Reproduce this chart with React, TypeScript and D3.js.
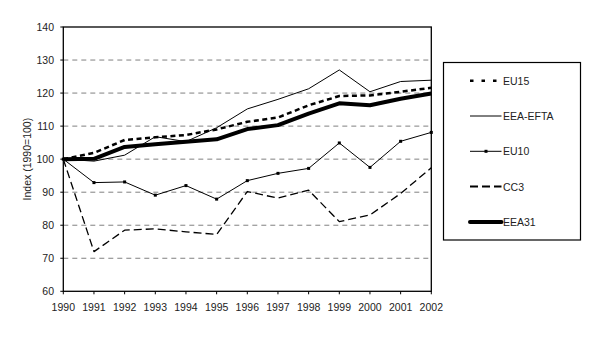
import React from "react";
import * as d3 from "d3";

const years = [1990, 1991, 1992, 1993, 1994, 1995, 1996, 1997, 1998, 1999, 2000, 2001, 2002];
const eu15 = [100, 101.9, 105.8, 106.6, 107.3, 109.0, 111.3, 112.6, 116.3, 119.1, 119.3, 120.4, 121.6];
const eeaEfta = [100, 99.4, 101.2, 106.8, 105.3, 109.5, 115.2, 118.1, 121.3, 127.0, 120.4, 123.5, 123.9];
const eu10 = [100, 92.9, 93.1, 89.1, 92.0, 87.9, 93.5, 95.7, 97.2, 104.9, 97.5, 105.4, 108.1];
const cc3 = [100, 72.0, 78.5, 78.9, 78.0, 77.2, 90.2, 88.2, 90.6, 81.1, 83.1, 89.6, 97.4];
const eea31 = [100, 100.1, 103.7, 104.5, 105.3, 106.0, 109.1, 110.3, 113.8, 116.9, 116.3, 118.3, 119.9];
const yTicks = [60, 70, 80, 90, 100, 110, 120, 130, 140];

const series = [
  { name: "EU15", values: eu15, width: 2.5, dash: "5 3.5", marker: false },
  { name: "EEA-EFTA", values: eeaEfta, width: 1, dash: null, marker: false },
  { name: "EU10", values: eu10, width: 1, dash: null, marker: true },
  { name: "CC3", values: cc3, width: 1.3, dash: "8 4", marker: false },
  { name: "EEA31", values: eea31, width: 4, dash: null, marker: false },
];

const font = "'Liberation Sans', Arial, sans-serif";

export default function App() {
  const x = d3.scaleLinear().domain([1990, 2002]).range([63.3, 431.3]);
  const y = d3.scaleLinear().domain([60, 140]).range([291.3, 27]);
  const line = d3
    .line<number>()
    .x((_, i) => x(years[i]))
    .y((d) => y(d));

  return (
    <svg
      width={610}
      height={364}
      style={{ position: "absolute", left: 0, top: 0, background: "#fff" }}
    >
      {/* grid */}
      {yTicks.slice(1, -1).map((t) => (
        <line
          key={t}
          x1={x(1990)}
          x2={x(2002)}
          y1={y(t)}
          y2={y(t)}
          stroke="#808080"
          strokeWidth={1}
          strokeDasharray="5 4"
        />
      ))}
      {/* plot border */}
      <rect
        x={x(1990)}
        y={y(140)}
        width={x(2002) - x(1990)}
        height={y(60) - y(140)}
        fill="none"
        stroke="#000"
        strokeWidth={1.3}
      />
      {/* y ticks */}
      {yTicks.map((t) => (
        <g key={t}>
          <line x1={x(1990) - 3} x2={x(1990)} y1={y(t)} y2={y(t)} stroke="#000" />
          <text
            x={54}
            y={y(t)}
            textAnchor="end"
            dominantBaseline="central"
            fontFamily={font}
            fontSize={10.5}
            fill="#222"
          >
            {t}
          </text>
        </g>
      ))}
      {/* x ticks */}
      {years.map((yr) => (
        <g key={yr}>
          <line x1={x(yr)} x2={x(yr)} y1={y(60)} y2={y(60) + 3} stroke="#000" />
          <text
            x={x(yr)}
            y={307}
            textAnchor="middle"
            dominantBaseline="central"
            fontFamily={font}
            fontSize={10.5}
            fill="#222"
          >
            {yr}
          </text>
        </g>
      ))}
      <text
        transform={`translate(27,${y(100)}) rotate(-90)`}
        textAnchor="middle"
        dominantBaseline="central"
        fontFamily={font}
        fontSize={10.5}
        fill="#222"
      >
        Index (1990=100)
      </text>
      {/* series */}
      {series.map((s) => (
        <g key={s.name}>
          <path
            d={line(s.values) || ""}
            fill="none"
            stroke="#000"
            strokeWidth={s.width}
            strokeDasharray={s.dash || undefined}
            strokeLinejoin="round"
          />
          {s.marker &&
            s.values.map((v, i) => (
              <rect key={i} x={x(years[i]) - 1.5} y={y(v) - 1.5} width={3} height={3} fill="#000" />
            ))}
        </g>
      ))}
      {/* legend */}
      <rect x={443.5} y={62.5} width={137} height={177.5} fill="#fff" stroke="#000" strokeWidth={1.2} />
      {series.map((s, i) => {
        const ly = 80.7 + i * 35.3;
        return (
          <g key={s.name}>
            <line
              x1={470}
              x2={501.5}
              y1={ly}
              y2={ly}
              stroke="#000"
              strokeWidth={s.name === "EU15" ? 2.6 : s.name === "CC3" ? 2 : s.width}
              strokeDasharray={s.name === "EU15" ? "3.5 8" : s.dash || undefined}
              strokeLinecap={s.name === "EEA31" ? "round" : "butt"}
            />
            {s.marker && <rect x={484.5} y={ly - 1.5} width={3} height={3} fill="#000" />}
            <text
              x={503}
              y={ly}
              dominantBaseline="central"
              fontFamily={font}
              fontSize={10.5}
              fill="#222"
            >
              {s.name}
            </text>
          </g>
        );
      })}
    </svg>
  );
}
